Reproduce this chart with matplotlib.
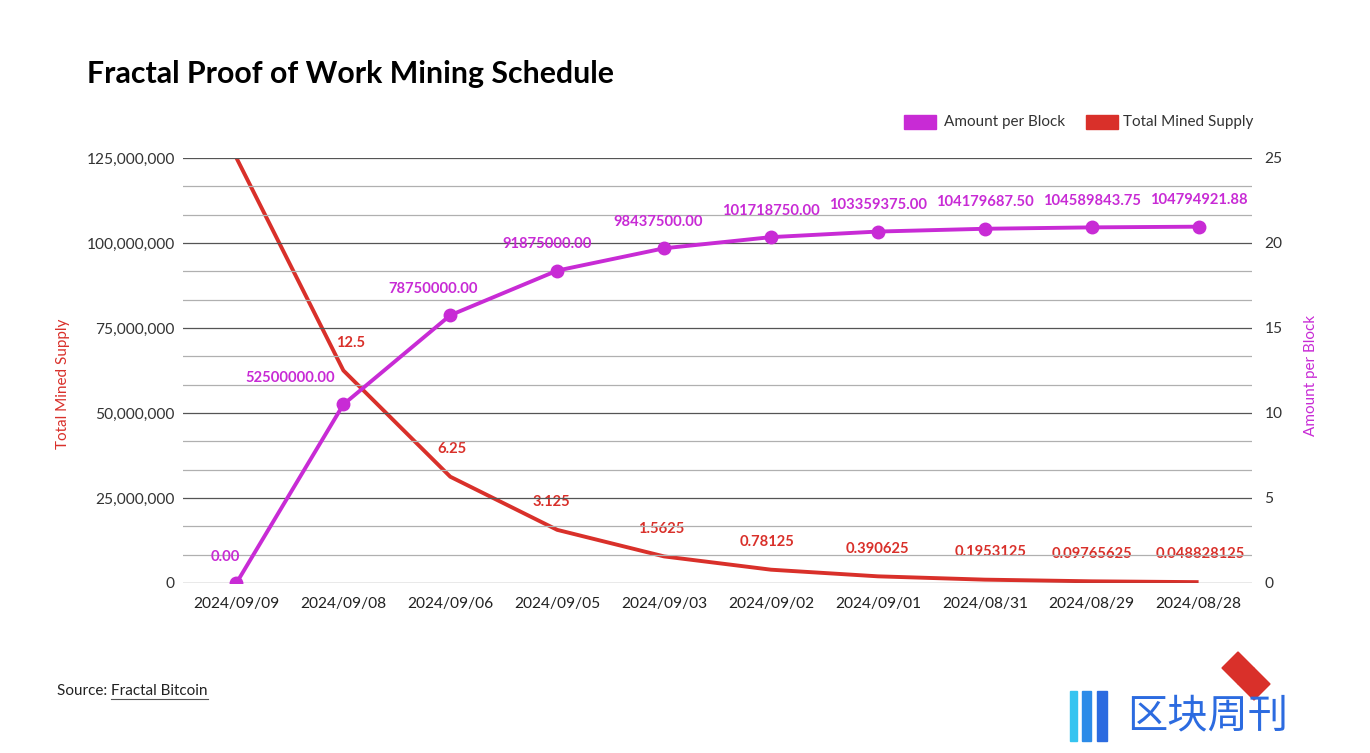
import matplotlib
matplotlib.use('Agg')
import matplotlib.pyplot as plt
from matplotlib.patches import Rectangle, Polygon
from matplotlib.lines import Line2D
from matplotlib.ticker import FuncFormatter, MultipleLocator

plt.rcParams['font.family'] = ['Lato', 'DejaVu Sans']

# data
dates = ['2024/09/09', '2024/09/08', '2024/09/06', '2024/09/05', '2024/09/03',
         '2024/09/02', '2024/09/01', '2024/08/31', '2024/08/29', '2024/08/28']
total_supply = [0.0, 52500000.00, 78750000.00, 91875000.00, 98437500.00,
                101718750.00, 103359375.00, 104179687.50, 104589843.75, 104794921.88]
per_block = [25, 12.5, 6.25, 3.125, 1.5625, 0.78125, 0.390625,
             0.1953125, 0.09765625, 0.048828125]

PURPLE = '#C82BD5'
RED = '#D9302A'
TXT = '#333333'
W, H = 1370, 753

fig = plt.figure(figsize=(13.7, 7.53), dpi=100)
ax = fig.add_axes([0.1336, 0.2258, 0.7803, 0.5644])
ax2 = ax.twinx()

x = list(range(len(dates)))

# left axis: total supply (purple, with markers)
ax.set_ylim(0, 125e6)
ax.set_xlim(-0.5, len(dates) - 0.5)
ax.yaxis.set_major_locator(MultipleLocator(25e6))
ax.yaxis.set_minor_locator(MultipleLocator(25e6 / 3))
ax.yaxis.set_major_formatter(FuncFormatter(lambda v, p: f'{v:,.0f}'))
ax.grid(True, which='major', axis='y', color='#555555', lw=0.9)
ax.grid(True, which='minor', axis='y', color='#b0b0b0', lw=0.9)
ax.set_axisbelow(True)
ax.tick_params(axis='y', which='both', length=0, pad=6, labelsize=11.2, colors=TXT)
ax.tick_params(axis='x', length=0, pad=10, labelsize=11.2, colors='#222222')
ax.set_xticks(x)
ax.set_xticklabels(dates)

# right axis: amount per block (red line)
ax2.set_ylim(0, 25)
ax2.yaxis.set_major_locator(MultipleLocator(5))
ax2.tick_params(axis='y', length=0, pad=9, labelsize=11.2, colors=TXT)

for a in (ax, ax2):
    for s in a.spines.values():
        s.set_visible(False)

ax2.plot(x, per_block, color=RED, lw=2.8, zorder=3, solid_capstyle='butt')

ax.plot(x, total_supply, color=PURPLE, lw=2.8, marker='o', markersize=9, zorder=4)
ax.set_zorder(ax2.get_zorder() + 1)
ax.patch.set_visible(False)

# point labels
purple_dx = [-8, -38, -12, -7, -4, 0, 0, 0, 0, 0]
for i, v in enumerate(total_supply):
    ax.annotate(f'{v:.2f}', (i, v), xytext=(purple_dx[i], 19), textcoords='offset points',
                ha='center', va='center', color=PURPLE, fontsize=10.6, fontweight='bold',
                annotation_clip=False)

red_dx = [0, 5, 1, -4, -2, -3, 0, 4, 0, 1]
for i, v in enumerate(per_block):
    if i == 0:
        continue
    ax2.annotate(str(v), (i, v), xytext=(red_dx[i], 20), textcoords='offset points',
                 ha='center', va='center', color=RED, fontsize=10.6, fontweight='bold')

# axis titles
fig.text(0.046, 0.49, 'Total Mined Supply', rotation=90, color=RED, fontsize=11,
         ha='center', va='center')
fig.text(0.957, 0.502, 'Amount per Block', rotation=90, color=PURPLE, fontsize=11,
         ha='center', va='center')

# title
fig.text(0.0635, 0.902, 'Fractal Proof of Work Mining Schedule', fontsize=21.8,
         fontweight='bold', color='black', ha='left', va='center')

# legend (boxes at top right)
fig.patches.append(Rectangle((904 / W, 1 - 129 / H), 32 / W, 14 / H,
                             transform=fig.transFigure, color=PURPLE))
fig.text(944 / W, 1 - 122 / H, 'Amount per Block', fontsize=11, color=TXT,
         va='center', ha='left')
fig.patches.append(Rectangle((1086 / W, 1 - 129 / H), 32 / W, 14 / H,
                             transform=fig.transFigure, color=RED))
fig.text(1123 / W, 1 - 122 / H, 'Total Mined Supply', fontsize=11, color=TXT,
         va='center', ha='left')

# source line with underlined link
src = fig.text(57 / W, 1 - 691 / H, 'Source: ', fontsize=11, color='#222222',
               va='center', ha='left')
fig.canvas.draw()
bb = src.get_window_extent()
link = fig.text(bb.x1 / W, 1 - 691 / H, 'Fractal Bitcoin', fontsize=11,
                color='#222222', va='center', ha='left')
fig.canvas.draw()
lb = link.get_window_extent()
fig.lines.append(Line2D([lb.x0 / W, lb.x1 / W], [(lb.y0 - 1) / H] * 2,
                        transform=fig.transFigure, color='#555555', lw=0.8))

# watermark logo
for bx, bw, col in [(1070, 7, '#35C4F0'), (1082, 9, '#2C8BE8'), (1097, 10, '#2C6BE0')]:
    fig.patches.append(Rectangle((bx / W, 1 - 741 / H), bw / W, 50 / H,
                                 transform=fig.transFigure, color=col))
fig.patches.append(Polygon([(1222 / W, 1 - 668 / H), (1238 / W, 1 - 652 / H),
                            (1254 / W, 1 - 668 / H), (1238 / W, 1 - 684 / H)],
                           closed=True, transform=fig.transFigure, color=RED))
fig.patches.append(Polygon([(1238 / W, 1 - 684 / H), (1254 / W, 1 - 668 / H),
                            (1270 / W, 1 - 684 / H), (1254 / W, 1 - 700 / H)],
                           closed=True, transform=fig.transFigure, color=RED))
fig.text(1208 / W, 1 - 716 / H, '区块周刊', fontsize=29, color='#2C6BE0',
         family=['Noto Sans CJK SC', 'DejaVu Sans'], va='center', ha='center')

fig.savefig('out.png', dpi=100)
